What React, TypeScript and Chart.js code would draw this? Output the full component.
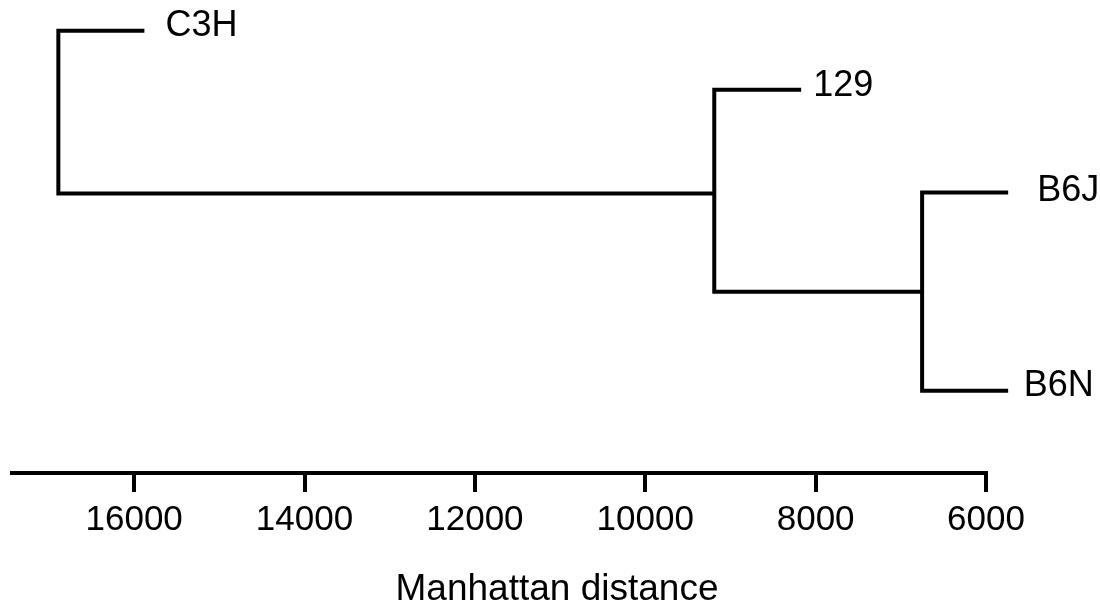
import React, { useEffect, useRef } from "react";
import { Chart, registerables } from "chart.js";

Chart.register(...registerables);

// ---- data ----
const leafNames = ["C3H", "129", "B6J", "B6N"];
const leafDistance = [15880, 8170, 5740, 5740];
const leafRow = [6.5, 19.0, 40.7, 82.6];

// merges reference indices: 0..3 leaves, 4.. merges (in order)
const mergeChildren = [
  [2, 3],
  [1, 4],
  [0, 5],
];
const mergeDistance = [6750, 9190, 16890];
const mergeRow = [61.7, 40.9, 23.7];

const tickValues = [16000, 14000, 12000, 10000, 8000, 6000];
const axisMin = 6000;
const axisMax = 17440;
const axisTitle = "Manhattan distance";

// ---- styles ----
const FONT = "'Liberation Sans', Arial, sans-serif";
const labelOffsets: Record<string, [number, number]> = {
  C3H: [21, -4.5],
  "129": [12, -3.5],
  B6J: [29, -1],
  B6N: [15.5, -5],
};

function nodePos(i: number) {
  if (i < leafNames.length) return { x: leafDistance[i], y: leafRow[i] };
  const m = i - leafNames.length;
  return { x: mergeDistance[m], y: mergeRow[m] };
}

export default function App() {
  const ref = useRef<HTMLCanvasElement>(null);

  useEffect(() => {
    if (!ref.current) return;
    const datasets = mergeChildren.map(([a, b], m) => {
      const A = nodePos(a);
      const B = nodePos(b);
      const h = mergeDistance[m];
      return {
        data: [
          { x: A.x, y: A.y },
          { x: h, y: A.y },
          { x: h, y: B.y },
          { x: B.x, y: B.y },
        ],
        showLine: true,
        borderColor: "#000",
        borderWidth: 4,
        pointRadius: 0,
        tension: 0,
        clip: false as any,
        borderJoinStyle: "miter" as const,
        borderCapStyle: "butt" as const,
      };
    });

    const textPlugin = {
      id: "dendroText",
      afterDraw(chart: any) {
        const ctx = chart.ctx;
        const xs = chart.scales.x;
        const ys = chart.scales.y;
        ctx.save();
        ctx.fillStyle = "#000";
        ctx.font = `36px ${FONT}`;
        ctx.textAlign = "left";
        ctx.textBaseline = "middle";
        leafNames.forEach((name, i) => {
          const [dx, dy] = labelOffsets[name] || [18, 0];
          const px = xs.getPixelForValue(leafDistance[i]) + dx;
          const py = ys.getPixelForValue(leafRow[i]) + dy;
          ctx.fillText(name, px, py);
        });
        ctx.font = `37px ${FONT}`;
        ctx.textAlign = "center";
        ctx.fillText(axisTitle, 557, 590);
        ctx.restore();
      },
    };

    const chart = new Chart(ref.current, {
      type: "scatter",
      data: { datasets: datasets as any },
      options: {
        animation: false,
        responsive: false,
        layout: { padding: { left: 11.5, right: 114, top: 0, bottom: 0 } },
        plugins: { legend: { display: false }, tooltip: { enabled: false } },
        scales: {
          x: {
            type: "linear",
            reverse: true,
            min: axisMin,
            max: axisMax,
            afterBuildTicks: (scale: any) => {
              scale.ticks = tickValues.map((v) => ({ value: v }));
            },
            afterFit: (scale: any) => {
              scale.height = 135;
            },
            grid: {
              display: true,
              drawOnChartArea: false,
              drawTicks: true,
              tickLength: 19,
              lineWidth: 4,
              color: "#000",
            },
            border: { display: true, width: 4, color: "#000" },
            ticks: {
              color: "#000",
              padding: 7,
              maxRotation: 0,
              autoSkip: false,
              font: { family: FONT, size: 35 },
              callback: (v: any) => String(v),
            },
            title: { display: false },
          },
          y: {
            type: "linear",
            display: false,
            reverse: true,
            min: 0,
            max: 100,
          },
        },
      },
      plugins: [textPlugin],
    });
    return () => chart.destroy();
  }, []);

  return (
    <div style={{ position: "absolute", left: 0, top: 0, width: 1100, height: 608, background: "#fff" }}>
      <canvas ref={ref} width={1100} height={608} />
    </div>
  );
}
